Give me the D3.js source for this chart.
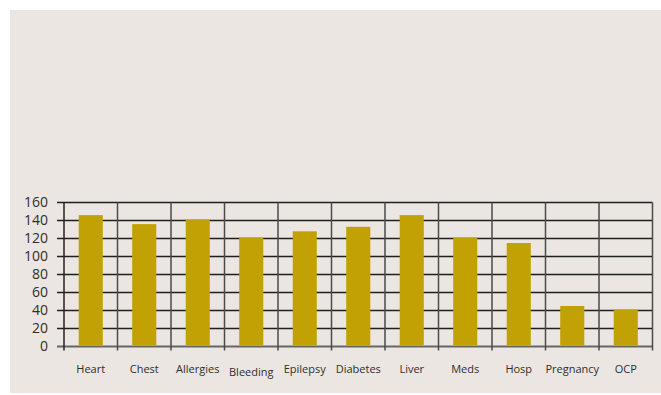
<!DOCTYPE html>
<html>
<head>
<meta charset="utf-8">
<script src="https://cdn.jsdelivr.net/npm/d3@7"></script>
<style>
  body { margin: 0; background: #fff; }
  svg { display: block; }
  text { font-family: "Open Sans", "Noto Sans", sans-serif; fill: #2e2e2e; }
</style>
</head>
<body>
<div id="chart"></div>
<script>
const categories = ["Heart", "Chest", "Allergies", "Bleeding", "Epilepsy", "Diabetes", "Liver", "Meds", "Hosp", "Pregnancy", "OCP"];
const values = [146, 136, 141, 121, 128, 133, 146, 121, 115, 45, 41];
const yTicks = [0, 20, 40, 60, 80, 100, 120, 140, 160];

const width = 661, height = 395;
const plotLeft = 64, plotRight = 652.5, plotTop = 202.5, plotBottom = 346.5;

const svg = d3.select("#chart").append("svg")
  .attr("width", width)
  .attr("height", height);

// panel background
svg.append("rect")
  .attr("x", 10).attr("y", 10)
  .attr("width", width - 10).attr("height", 383)
  .attr("fill", "#ebe6e1");

const x = d3.scaleBand().domain(categories).range([plotLeft, plotRight]).paddingInner(0).paddingOuter(0);
const y = d3.scaleLinear().domain([0, 160]).range([plotBottom, plotTop]);

// horizontal gridlines
svg.append("g")
  .selectAll("line")
  .data(yTicks)
  .enter()
  .append("line")
  .attr("x1", plotLeft - 7)
  .attr("x2", plotRight)
  .attr("y1", d => y(d))
  .attr("y2", d => y(d))
  .attr("stroke", d => d === 0 ? "#666" : "#1f1f1f")
  .attr("stroke-width", d => d === 0 ? 2 : 1.5);

// vertical category separators
const seps = categories.map(c => x(c)).concat([plotRight]);
svg.append("g")
  .selectAll("line")
  .data(seps)
  .enter()
  .append("line")
  .attr("x1", d => d)
  .attr("x2", d => d)
  .attr("y1", plotTop)
  .attr("y2", plotBottom + 4)
  .attr("stroke", d => d === plotLeft ? "#222" : "#4a4a4a")
  .attr("stroke-width", 1.5);

// bars
svg.append("g")
  .selectAll("rect")
  .data(values)
  .enter()
  .append("rect")
  .attr("x", (d, i) => x(categories[i]) + x.bandwidth() * 0.275)
  .attr("width", x.bandwidth() * 0.45)
  .attr("y", d => y(d))
  .attr("height", d => y(0) - y(d) - 1)
  .attr("fill", "#c2a104");

// y tick labels
svg.append("g")
  .selectAll("text")
  .data(yTicks)
  .enter()
  .append("text")
  .attr("x", 48)
  .attr("y", d => y(d))
  .attr("dy", "0.35em")
  .attr("text-anchor", "end")
  .style("font-size", "14px")
  .text(d => d);

// x labels
svg.append("g")
  .selectAll("text")
  .data(categories)
  .enter()
  .append("text")
  .attr("x", d => x(d) + x.bandwidth() / 2)
  .attr("y", d => d === "Bleeding" ? 376 : 373)
  .attr("text-anchor", "middle")
  .style("font-size", "11px")
  .text(d => d);
</script>
</body>
</html>
